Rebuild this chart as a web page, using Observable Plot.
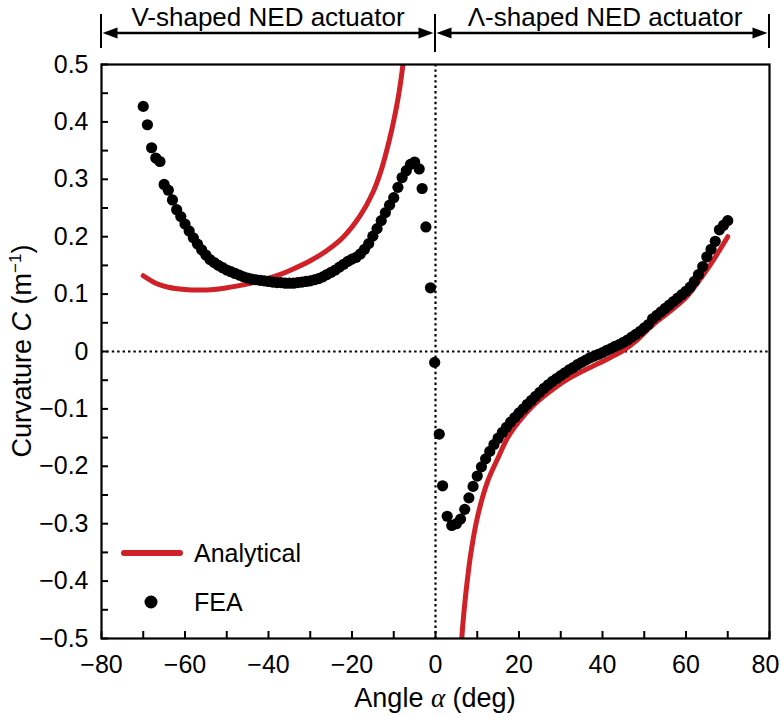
<!DOCTYPE html>
<html><head><meta charset="utf-8">
<script src="https://cdn.jsdelivr.net/npm/d3@7"></script>
<script src="https://cdn.jsdelivr.net/npm/@observablehq/plot@0.6"></script>
<style>
body{margin:0;background:#fff}
#chart{width:781px;height:717px}
</style>
</head><body><div id="chart"></div>
<script>
// ---- data ----
const feaAngle = [-70,-69,-68,-67,-66,-65,-64,-63,-62,-61,-60,-59,-58,-57,-56,-55,-54,-53,-52,-51,-50,-49,-48,-47,-46,-45,-44,-43,-42,-41,-40,-39,-38,-37,-36,-35,-34,-33,-32,-31,-30,-29,-28,-27,-26,-25,-24,-23,-22,-21,-20,-19,-18,-17,-16,-15,-14,-13,-12,-11,-10,-9,-8,-7,-6,-5,-3.9,-3.2,-2.3,-1.2,-0.2,0.9,1.7,2.8,3.9,5,6,7,8,9,10,11,12,13,14,15,16,17,18,19,20,21,22,23,24,25,26,27,28,29,30,31,32,33,34,35,36,37,38,39,40,41,42,43,44,45,46,47,48,49,50,51,52,53,54,55,56,57,58,59,60,61,62,63,64,65,66,67,68,69,70];
const feaCurv = [0.427,0.395,0.355,0.337,0.331,0.291,0.281,0.264,0.247,0.235,0.222,0.210,0.198,0.187,0.177,0.168,0.160,0.155,0.150,0.146,0.142,0.139,0.136,0.133,0.130,0.128,0.126,0.125,0.124,0.123,0.122,0.121,0.120,0.120,0.119,0.119,0.119,0.120,0.121,0.122,0.123,0.125,0.127,0.130,0.134,0.138,0.142,0.147,0.152,0.157,0.161,0.164,0.170,0.178,0.188,0.201,0.214,0.228,0.242,0.255,0.268,0.286,0.303,0.315,0.326,0.330,0.318,0.284,0.217,0.111,-0.019,-0.144,-0.234,-0.287,-0.303,-0.300,-0.292,-0.275,-0.255,-0.235,-0.217,-0.201,-0.187,-0.174,-0.162,-0.151,-0.141,-0.132,-0.123,-0.115,-0.107,-0.100,-0.092,-0.085,-0.078,-0.071,-0.064,-0.058,-0.052,-0.047,-0.042,-0.037,-0.032,-0.028,-0.023,-0.019,-0.015,-0.011,-0.008,-0.005,-0.002,0.002,0.005,0.009,0.012,0.016,0.020,0.025,0.030,0.035,0.041,0.047,0.057,0.063,0.069,0.075,0.081,0.087,0.093,0.099,0.105,0.112,0.122,0.134,0.148,0.165,0.178,0.192,0.212,0.220,0.228];

const anaLeftAngle = [-70,-67,-64,-60,-57,-53,-50,-46,-42.6,-38,-34.6,-30,-26,-22,-18,-15,-13,-11,-9.5,-8.5,-7.8,-7.2];
const anaLeftCurv  = [0.132,0.119,0.112,0.108,0.107,0.108,0.111,0.116,0.122,0.132,0.142,0.158,0.176,0.200,0.237,0.277,0.316,0.370,0.420,0.462,0.500,0.540];
const anaRightAngle = [6.0,6.5,7.0,7.6,8.5,10,12.5,15,17.3,20,23,27,31,35,39,42,45,48,52,56,60,63,66,68,70];
const anaRightCurv  = [-0.53,-0.48,-0.44,-0.40,-0.35,-0.29,-0.226,-0.185,-0.150,-0.122,-0.097,-0.072,-0.051,-0.035,-0.021,-0.010,0.002,0.018,0.046,0.069,0.094,0.122,0.153,0.176,0.200];

const xTickAll = [-80,-70,-60,-50,-40,-30,-20,-10,0,10,20,30,40,50,60,70,80];
const xTickLabeled = [-80,-60,-40,-20,0,20,40,60];
const xTickLabeledEdge = [80];
const yTickAll = [-0.5,-0.45,-0.4,-0.35,-0.3,-0.25,-0.2,-0.15,-0.1,-0.05,0,0.05,0.1,0.15,0.2,0.25,0.3,0.35,0.4,0.45,0.5];
const yTickLabeled = [-0.5,-0.4,-0.3,-0.2,-0.1,0,0.1,0.2,0.3,0.4,0.5];

const regionBounds = [-80, 0, 80];
const regionLabels = ["V-shaped NED actuator", "\u039B-shaped NED actuator"];
const seriesNames = ["Analytical", "FEA"];

// ---- build tables ----
const fea = feaAngle.map((a, i) => ({a, c: feaCurv[i]}));
const anaL = anaLeftAngle.map((a, i) => ({a, c: anaLeftCurv[i]}));
const anaR = anaRightAngle.map((a, i) => ({a, c: anaRightCurv[i]}));

const RED = "#cf2127";
const FONT = "'Liberation Sans', Arial, Helvetica, sans-serif";
const FS = 25;
const fmtY = d => d === 0 ? "0" : (d < 0 ? "\u2212" : "") + Math.abs(d).toFixed(1);
const fmtX = d => (d < 0 ? "\u2212" : "") + Math.abs(d);

const chartSvg = Plot.plot({
  width: 781, height: 717,
  marginLeft: 101, marginRight: 12, marginTop: 64, marginBottom: 79,
  style: {fontFamily: FONT, fontSize: FS + "px", background: "#fff", color: "#000", overflow: "visible"},
  x: {domain: [-80, 80]},
  y: {domain: [-0.5, 0.5]},
  marks: [
    Plot.ruleY([0], {stroke: "#000", strokeWidth: 2.2, strokeDasharray: "2.4,3"}),
    Plot.ruleX([0], {stroke: "#000", strokeWidth: 2.2, strokeDasharray: "2.4,3"}),
    Plot.line(anaL, {x: "a", y: "c", stroke: RED, strokeWidth: 5, curve: "catmull-rom", clip: true}),
    Plot.line(anaR, {x: "a", y: "c", stroke: RED, strokeWidth: 5, curve: "catmull-rom", clip: true}),
    Plot.dot(fea, {x: "a", y: "c", r: 5.6, fill: "#000", stroke: "none"}),
    Plot.axisY(yTickAll, {tickSize: 7, dx: 7, fill: "none", label: null, strokeWidth: 2}),
    Plot.axisY(yTickLabeled, {tickSize: 0, tickPadding: 13, tickFormat: fmtY, label: null, fontSize: FS}),
    Plot.axisX(xTickAll, {tickSize: 7, dy: -7, fill: "none", label: null, strokeWidth: 2}),
    Plot.axisX(xTickLabeled, {tickSize: 0, tickPadding: 17, tickFormat: fmtX, label: null, fontSize: FS}),
    Plot.axisX(xTickLabeledEdge, {tickSize: 0, tickPadding: 17, tickFormat: fmtX, label: null, fontSize: FS, dx: -4}),
    Plot.frame({stroke: "#000", strokeWidth: 2.2})
  ]
});

document.getElementById("chart").appendChild(chartSvg);

// ---- annotations using the plot's scales ----
const sx = chartSvg.scale("x");
const sy = chartSvg.scale("y");
const X = v => sx.apply(v);
const svg = d3.select(chartSvg);

// top region brackets
const bracketG = svg.append("g").attr("stroke", "#000").attr("fill", "#000");
const arrowY = 33;
regionBounds.forEach((v, i) => {
  bracketG.append("line").attr("x1", X(v)).attr("x2", X(v)).attr("y1", 14).attr("y2", i === 1 ? 52 : 48).attr("stroke-width", 2);
});
const labelShift = [0, 3];
for (let i = 0; i < 2; i++) {
  const x0 = X(regionBounds[i]) + 1.5, x1 = X(regionBounds[i + 1]) - 1.5;
  bracketG.append("line").attr("x1", x0 + 8).attr("x2", x1 - 8).attr("y1", arrowY).attr("y2", arrowY).attr("stroke-width", 2.4);
  bracketG.append("path").attr("stroke", "none").attr("d", `M${x0},${arrowY} L${x0 + 15},${arrowY - 5.5} L${x0 + 15},${arrowY + 5.5} Z`);
  bracketG.append("path").attr("stroke", "none").attr("d", `M${x1},${arrowY} L${x1 - 15},${arrowY - 5.5} L${x1 - 15},${arrowY + 5.5} Z`);
  svg.append("text").attr("x", (X(regionBounds[i]) + X(regionBounds[i + 1])) / 2 + labelShift[i]).attr("y", 26)
    .attr("text-anchor", "middle").attr("font-size", 26).attr("font-family", FONT).attr("fill", "#000")
    .text(regionLabels[i]);
}

// axis titles
const xt = svg.append("text").attr("x", X(0)).attr("y", 707).attr("text-anchor", "middle")
  .attr("font-size", 27).attr("font-family", FONT).attr("fill", "#000");
xt.append("tspan").text("Angle ");
xt.append("tspan").attr("font-family", "'Liberation Serif', 'DejaVu Serif', serif").attr("font-style", "italic").text("\u03B1");
xt.append("tspan").text(" (deg)");

const yt = svg.append("text").attr("transform", `translate(31,${sy.apply(0)}) rotate(-90)`).attr("text-anchor", "middle")
  .attr("font-size", 27).attr("font-family", FONT).attr("fill", "#000");
yt.append("tspan").text("Curvature ");
yt.append("tspan").attr("font-style", "italic").text("C");
yt.append("tspan").text(" (m");
yt.append("tspan").attr("dy", -10).attr("font-size", 17).text("\u22121");
yt.append("tspan").attr("dy", 10).text(")");

// legend
const lg = svg.append("g").attr("font-size", FS).attr("font-family", FONT).attr("text-anchor", "start");
lg.append("line").attr("x1", 124).attr("x2", 180).attr("y1", 553).attr("y2", 553)
  .attr("stroke", RED).attr("stroke-width", 6).attr("stroke-linecap", "round");
lg.append("text").attr("x", 194).attr("y", 562).attr("fill", "#000").attr("text-anchor", "start").text(seriesNames[0]);
lg.append("circle").attr("cx", 151).attr("cy", 602).attr("r", 6.5).attr("fill", "#000");
lg.append("text").attr("x", 194).attr("y", 611).attr("fill", "#000").attr("text-anchor", "start").text(seriesNames[1]);
</script>
</body></html>
